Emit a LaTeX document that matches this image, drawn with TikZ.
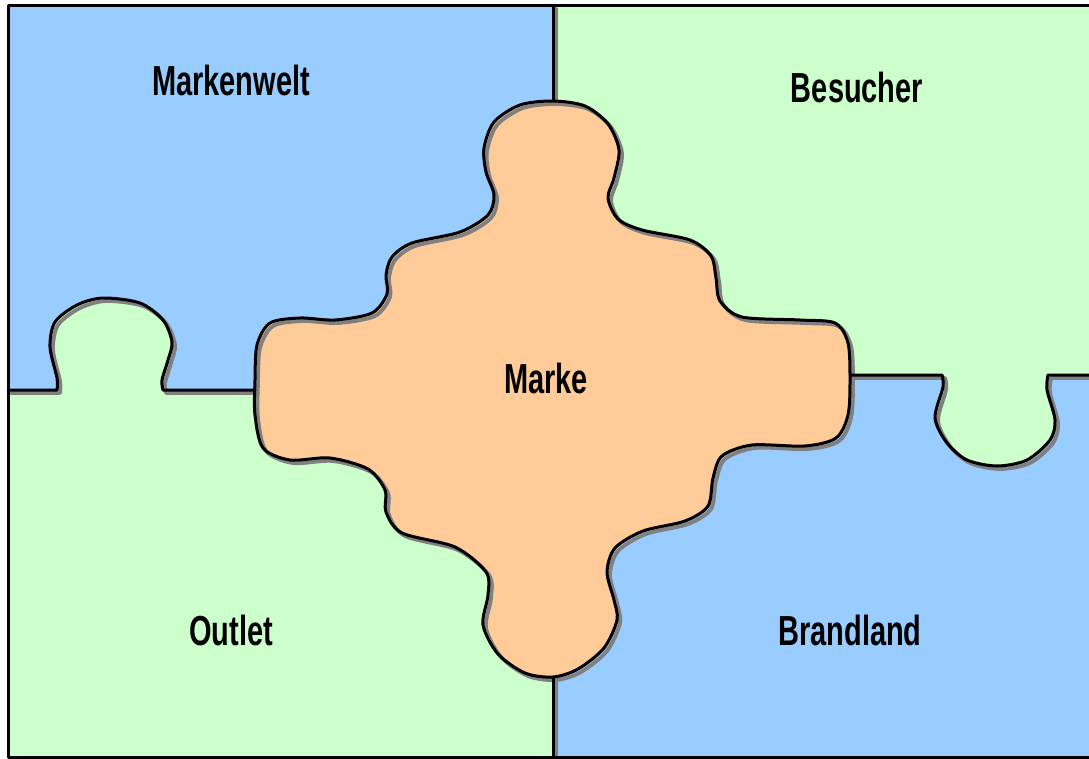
\documentclass[tikz,border=0pt]{standalone}
\usepackage{fontspec}
\newfontfamily\lab{Liberation Sans}[FakeStretch=0.69]
\definecolor{pblue}{HTML}{99CCFF}
\definecolor{pgreen}{HTML}{CCFFCC}
\definecolor{porange}{HTML}{FFCC99}
\definecolor{pshadow}{HTML}{808080}
\begin{document}
\begin{tikzpicture}[x=1pt,y=-1pt,line join=round,line cap=round,
  lbl/.style={font=\lab\bfseries\fontsize{42}{42}\selectfont,text=black,inner sep=0pt}]
\useasboundingbox (0,0) rectangle (1089,759);
% pieces
\fill[pblue]  (8,6) rectangle (553,390);
\fill[pgreen] (553,6) rectangle (1089,375);
\fill[pgreen] (8,390) rectangle (553,757);
\fill[pblue]  (553,375) rectangle (1089,757);
% tabs
\fill[pgreen] plot[smooth] coordinates {(57,391) (57,378) (50,347) (55,322) (77,305) (103,298) (140,303) (163,320) (172,342) (168,360) (162,380) (163,391)} -- cycle;
\fill[pgreen] plot[smooth] coordinates {(942,374) (943,387) (935,418) (947,443) (967,460) (997,466) (1027,460) (1050,440) (1055,420) (1047,390) (1048,374)} -- cycle;
% centre piece fill
\fill[porange] plot[smooth cycle] coordinates {(553,101) (585,106) (608,124) (619,150) (614,178) (608,198) (618,219) (642,230) (690,240) (711,256) (716,278) (720,301) (742,317) (800,320) (835,323) (848,343) (850,380) (848,415) (836,438) (805,446) (752,445) (722,456) (713,478) (708,506) (685,521) (643,531) (615,548) (607,572) (614,600) (617,620) (604,648) (578,669) (553,677) (525,673) (498,654) (483,625) (488,595) (486,572) (455,547) (402,533) (386,512) (385,490) (368,469) (330,458) (290,460) (263,448) (255,415) (255,380) (257,345) (270,323) (300,318) (335,320) (372,313) (387,294) (386,275) (392,257) (412,243) (460,232) (488,215) (494,195) (486,172) (484,148) (494,122) (520,105)};
% outlines: shadow pass then black pass
\foreach \s/\c/\w in {3/pshadow/3.8,0/black/3}{
  \begin{scope}[shift={(\s,\s)},draw=\c,line width=\w pt]
  \draw (8,390) -- plot[smooth] coordinates {(57,390) (57,378) (50,347) (55,322) (77,305) (103,298) (140,303) (163,320) (172,342) (168,360) (162,380) (163,390)} -- (255,390);
  \draw (850,375) -- plot[smooth] coordinates {(942,375) (943,387) (935,418) (947,443) (967,460) (997,466) (1027,460) (1050,440) (1055,420) (1047,390) (1048,375)} -- (1092,375);
  \draw (553,6) -- (553,101);
  \draw (553,677) -- (553,757);
  \draw plot[smooth cycle] coordinates {(553,101) (585,106) (608,124) (619,150) (614,178) (608,198) (618,219) (642,230) (690,240) (711,256) (716,278) (720,301) (742,317) (800,320) (835,323) (848,343) (850,380) (848,415) (836,438) (805,446) (752,445) (722,456) (713,478) (708,506) (685,521) (643,531) (615,548) (607,572) (614,600) (617,620) (604,648) (578,669) (553,677) (525,673) (498,654) (483,625) (488,595) (486,572) (455,547) (402,533) (386,512) (385,490) (368,469) (330,458) (290,460) (263,448) (255,415) (255,380) (257,345) (270,323) (300,318) (335,320) (372,313) (387,294) (386,275) (392,257) (412,243) (460,232) (488,215) (494,195) (486,172) (484,148) (494,122) (520,105)};
  \end{scope}
}
% outer border
\draw[line width=3pt] (1095,6) -- (8,6) -- (8,757) -- (1095,757);
% labels
\node[lbl] (markenwelt) at (231,80) {Markenwelt};
\node[lbl] (besucher) at (857,87) {Besucher};
\node[lbl] (marke) at (546,378) {Marke};
\node[lbl] (outlet) at (231,630) {Outlet};
\node[lbl] (brandland) at (850,630) {Brandland};
\end{tikzpicture}
\end{document}
